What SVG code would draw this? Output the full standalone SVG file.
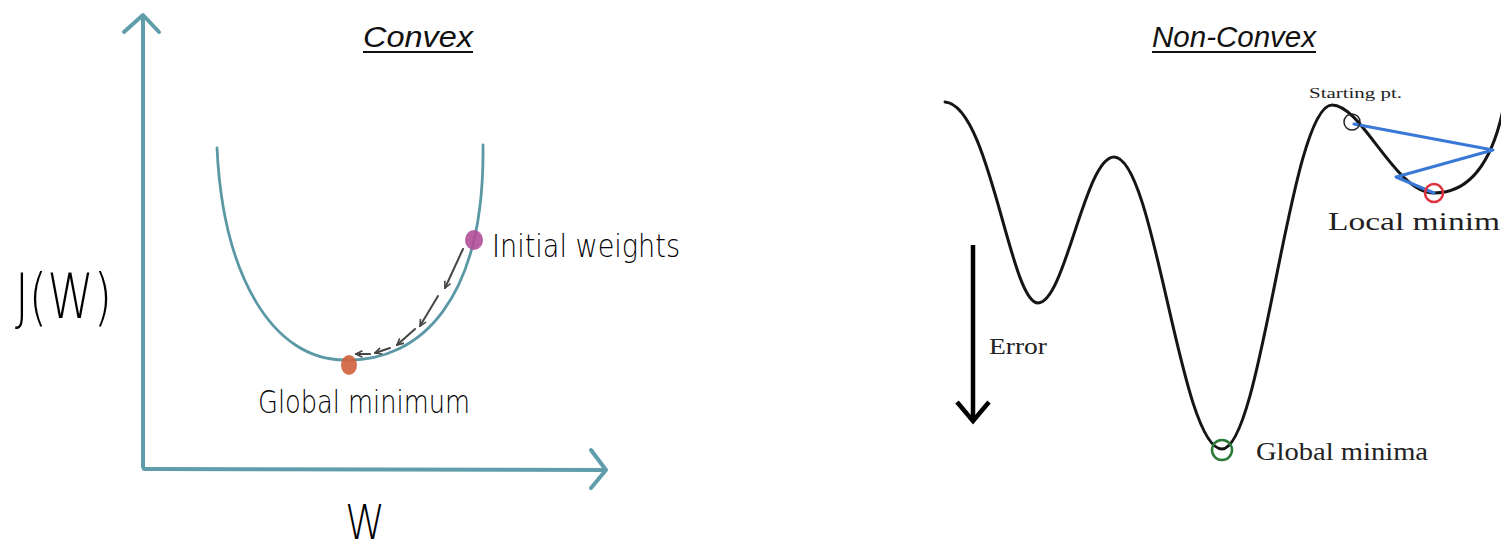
<svg xmlns="http://www.w3.org/2000/svg" width="1501" height="552" viewBox="0 0 1501 552">
<style>
.axis{fill:none;stroke:#5f9dab;stroke-width:4;stroke-linecap:round;stroke-linejoin:round}
.para{fill:none;stroke:#5b98a6;stroke-width:2.8;stroke-linecap:round}
.step{fill:none;stroke:#454545;stroke-width:2;stroke-linecap:round}
.hand{font-family:"DejaVu Sans",sans-serif;font-weight:300;font-stretch:condensed;fill:#000}
.title{font-family:"Liberation Sans",Arial,sans-serif;font-style:italic;font-size:30px;fill:#111}
.serif{font-family:"Liberation Serif","Times New Roman",serif;fill:#222}
.curve{fill:none;stroke:#151515;stroke-width:3;stroke-linecap:round}
.blue{fill:none;stroke:#3a78d8;stroke-width:3;stroke-linecap:round;stroke-linejoin:round}
</style>
<defs>
<marker id="chev" viewBox="0 0 10 10" refX="9" refY="5" markerWidth="8" markerHeight="8" markerUnits="userSpaceOnUse" orient="auto">
<path d="M1,1 L9,5 L1,9" fill="none" stroke="#454545" stroke-width="2"/>
</marker>
</defs>
<rect width="1501" height="552" fill="#ffffff"/>

<g id="convex-panel">
<g id="convex-title">
<text class="title" x="363" y="47" textLength="110" lengthAdjust="spacingAndGlyphs">Convex</text>
<line x1="363" y1="52" x2="473" y2="52" stroke="#111" stroke-width="2"/>
</g>
<g id="axes">
<path class="axis" d="M143,467 L143,16"/>
<path class="axis" d="M124,32 L143,15 L159,32"/>
<path class="axis" d="M144,469 L605,470"/>
<path class="axis" d="M591,450 L606,470 L591,488"/>
</g>
<g id="parabola">
<path class="para" d="M217,148 C223,275 272,360 345,360 C420,362 485,300 483,145"/>
</g>
<g id="steps">
<line class="step" x1="463" y1="249" x2="445" y2="288" marker-end="url(#chev)"/>
<line class="step" x1="438" y1="296" x2="420" y2="326" marker-end="url(#chev)"/>
<line class="step" x1="415" y1="329" x2="397" y2="345" marker-end="url(#chev)"/>
<line class="step" x1="390" y1="348" x2="375" y2="353" marker-end="url(#chev)"/>
<line class="step" x1="370" y1="354" x2="356" y2="354" marker-end="url(#chev)"/>
</g>
<g id="initial-weights">
<ellipse cx="474" cy="240" rx="9" ry="10" fill="#b04f98" opacity="0.9"/>
<text class="hand" x="492" y="257" font-size="32" textLength="188" lengthAdjust="spacingAndGlyphs">Initial weights</text>
</g>
<g id="global-minimum">
<ellipse cx="349" cy="365" rx="8" ry="10" fill="#d0603c" opacity="0.9"/>
<text class="hand" x="258" y="413" font-size="32" textLength="212" lengthAdjust="spacingAndGlyphs">Global minimum</text>
</g>
<g id="labels">
<text class="hand" x="15" y="318" font-size="62" textLength="97" lengthAdjust="spacingAndGlyphs">J(W)</text>
<text class="hand" x="345" y="539" font-size="48" textLength="40" lengthAdjust="spacingAndGlyphs">W</text>
</g>
</g>

<g id="nonconvex-panel">
<g id="nonconvex-title">
<text class="title" x="1152" y="47" textLength="164" lengthAdjust="spacingAndGlyphs">Non-Convex</text>
<line x1="1152" y1="52" x2="1316" y2="52" stroke="#111" stroke-width="2"/>
</g>
<g id="error-curve">
<path class="curve" d="M945,102 C990,105 1010,303 1038,303 C1065,303 1085,157 1114,157 C1155,157 1180,449 1222,449 C1262,449 1290,105 1332,105 C1362,105 1395,193 1434,193 C1465,193 1490,170 1503,110"/>
</g>
<g id="error-axis">
<path d="M973,245 L973,420" stroke="#000" stroke-width="4.5" fill="none"/>
<path d="M957,402 L973,421 L989,402" stroke="#000" stroke-width="4.5" fill="none" stroke-linejoin="miter"/>
<text class="serif" x="989" y="354" font-size="24" textLength="58" lengthAdjust="spacingAndGlyphs">Error</text>
</g>
<g id="gd-path">
<path class="blue" d="M1354,124 L1493,150 L1396,177 L1434,193"/>
</g>
<g id="starting-pt">
<circle cx="1352" cy="122" r="8" fill="none" stroke="#222" stroke-width="1.5"/>
<text class="serif" x="1309" y="98" font-size="15" textLength="93" lengthAdjust="spacingAndGlyphs">Starting pt.</text>
</g>
<g id="local-minimum">
<circle cx="1434" cy="193" r="9" fill="none" stroke="#e0303c" stroke-width="2.5"/>
<text class="serif" x="1328" y="230" font-size="26" textLength="172" lengthAdjust="spacingAndGlyphs">Local minim</text>
</g>
<g id="global-minima">
<circle cx="1222" cy="450" r="10" fill="none" stroke="#2a7a36" stroke-width="2.5"/>
<text class="serif" x="1256" y="460" font-size="26" textLength="172" lengthAdjust="spacingAndGlyphs">Global minima</text>
</g>
</g>
</svg>
